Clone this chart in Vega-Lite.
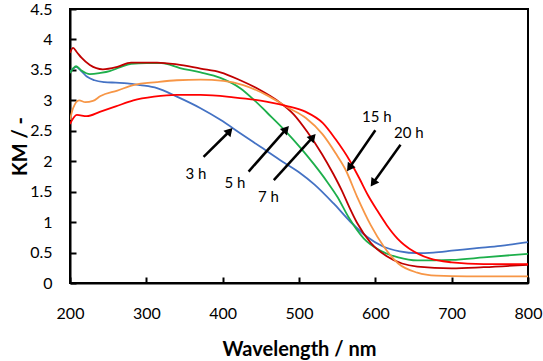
{
  "$schema": "https://vega.github.io/schema/vega-lite/v6.json",
  "width": 458,
  "height": 274,
  "autosize": {"type": "none"},
  "padding": {"left": 70, "top": 9, "right": 15, "bottom": 78},
  "background": "white",
  "config": {
    "view": {"stroke": "black", "strokeWidth": 2},
    "font": "Lato",
    "axis": {
      "domainColor": "black", "domainWidth": 2, "tickColor": "black", "tickWidth": 2,
      "tickSize": -6, "grid": false, "labelFont": "Lato", "labelFontSize": 16, "labelColor": "black",
      "labelFlush": false, "labelOverlap": false, "labelBound": false,
      "titleFont": "Lato", "titleFontSize": 20, "titleFontWeight": "bold", "titleColor": "black"
    }
  },
  "datasets": {
    "curves": [
      {"s":"3 h","wl":200,"km":3.47},{"s":"3 h","wl":204,"km":3.52},{"s":"3 h","wl":208,"km":3.55},{"s":"3 h","wl":214,"km":3.49},{"s":"3 h","wl":222,"km":3.39},{"s":"3 h","wl":232,"km":3.33},{"s":"3 h","wl":245,"km":3.30},{"s":"3 h","wl":260,"km":3.29},{"s":"3 h","wl":275,"km":3.28},{"s":"3 h","wl":292,"km":3.25},{"s":"3 h","wl":314,"km":3.20},{"s":"3 h","wl":340,"km":3.06},{"s":"3 h","wl":371,"km":2.87},{"s":"3 h","wl":397,"km":2.68},{"s":"3 h","wl":423,"km":2.46},{"s":"3 h","wl":449,"km":2.24},{"s":"3 h","wl":475,"km":2.02},{"s":"3 h","wl":500,"km":1.82},{"s":"3 h","wl":520,"km":1.62},{"s":"3 h","wl":545,"km":1.31},{"s":"3 h","wl":567,"km":1.01},{"s":"3 h","wl":589,"km":0.76},{"s":"3 h","wl":610,"km":0.60},{"s":"3 h","wl":632,"km":0.52},{"s":"3 h","wl":655,"km":0.49},{"s":"3 h","wl":676,"km":0.50},{"s":"3 h","wl":700,"km":0.53},{"s":"3 h","wl":730,"km":0.57},{"s":"3 h","wl":764,"km":0.61},{"s":"3 h","wl":800,"km":0.67},
      {"s":"5 h","wl":200,"km":3.45},{"s":"5 h","wl":204,"km":3.52},{"s":"5 h","wl":208,"km":3.56},{"s":"5 h","wl":215,"km":3.49},{"s":"5 h","wl":226,"km":3.43},{"s":"5 h","wl":240,"km":3.45},{"s":"5 h","wl":252,"km":3.48},{"s":"5 h","wl":265,"km":3.54},{"s":"5 h","wl":280,"km":3.60},{"s":"5 h","wl":300,"km":3.61},{"s":"5 h","wl":320,"km":3.61},{"s":"5 h","wl":344,"km":3.53},{"s":"5 h","wl":371,"km":3.46},{"s":"5 h","wl":397,"km":3.37},{"s":"5 h","wl":423,"km":3.20},{"s":"5 h","wl":440,"km":3.02},{"s":"5 h","wl":458,"km":2.80},{"s":"5 h","wl":482,"km":2.50},{"s":"5 h","wl":502,"km":2.22},{"s":"5 h","wl":519,"km":1.96},{"s":"5 h","wl":537,"km":1.66},{"s":"5 h","wl":550,"km":1.42},{"s":"5 h","wl":565,"km":1.08},{"s":"5 h","wl":585,"km":0.73},{"s":"5 h","wl":607,"km":0.53},{"s":"5 h","wl":630,"km":0.42},{"s":"5 h","wl":655,"km":0.37},{"s":"5 h","wl":700,"km":0.38},{"s":"5 h","wl":742,"km":0.42},{"s":"5 h","wl":800,"km":0.48},
      {"s":"7 h","wl":200,"km":3.78},{"s":"7 h","wl":204,"km":3.86},{"s":"7 h","wl":209,"km":3.79},{"s":"7 h","wl":215,"km":3.70},{"s":"7 h","wl":226,"km":3.58},{"s":"7 h","wl":243,"km":3.51},{"s":"7 h","wl":262,"km":3.55},{"s":"7 h","wl":280,"km":3.62},{"s":"7 h","wl":314,"km":3.62},{"s":"7 h","wl":340,"km":3.59},{"s":"7 h","wl":371,"km":3.52},{"s":"7 h","wl":397,"km":3.46},{"s":"7 h","wl":423,"km":3.33},{"s":"7 h","wl":449,"km":3.17},{"s":"7 h","wl":471,"km":3.00},{"s":"7 h","wl":493,"km":2.77},{"s":"7 h","wl":511,"km":2.48},{"s":"7 h","wl":530,"km":2.12},{"s":"7 h","wl":545,"km":1.79},{"s":"7 h","wl":556,"km":1.52},{"s":"7 h","wl":565,"km":1.27},{"s":"7 h","wl":576,"km":0.99},{"s":"7 h","wl":594,"km":0.66},{"s":"7 h","wl":615,"km":0.44},{"s":"7 h","wl":635,"km":0.32},{"s":"7 h","wl":655,"km":0.27},{"s":"7 h","wl":700,"km":0.24},{"s":"7 h","wl":742,"km":0.26},{"s":"7 h","wl":800,"km":0.30},
      {"s":"15 h","wl":200,"km":2.68},{"s":"15 h","wl":204,"km":2.87},{"s":"15 h","wl":212,"km":3.00},{"s":"15 h","wl":220,"km":2.97},{"s":"15 h","wl":230,"km":2.99},{"s":"15 h","wl":240,"km":3.07},{"s":"15 h","wl":262,"km":3.16},{"s":"15 h","wl":283,"km":3.25},{"s":"15 h","wl":314,"km":3.30},{"s":"15 h","wl":340,"km":3.33},{"s":"15 h","wl":371,"km":3.34},{"s":"15 h","wl":401,"km":3.32},{"s":"15 h","wl":427,"km":3.25},{"s":"15 h","wl":457,"km":3.09},{"s":"15 h","wl":487,"km":2.87},{"s":"15 h","wl":509,"km":2.71},{"s":"15 h","wl":531,"km":2.44},{"s":"15 h","wl":548,"km":2.13},{"s":"15 h","wl":561,"km":1.86},{"s":"15 h","wl":576,"km":1.42},{"s":"15 h","wl":594,"km":0.95},{"s":"15 h","wl":611,"km":0.60},{"s":"15 h","wl":630,"km":0.32},{"s":"15 h","wl":655,"km":0.17},{"s":"15 h","wl":680,"km":0.12},{"s":"15 h","wl":720,"km":0.11},{"s":"15 h","wl":800,"km":0.11},
      {"s":"20 h","wl":200,"km":2.61},{"s":"20 h","wl":209,"km":2.76},{"s":"20 h","wl":222,"km":2.74},{"s":"20 h","wl":239,"km":2.81},{"s":"20 h","wl":260,"km":2.90},{"s":"20 h","wl":283,"km":3.00},{"s":"20 h","wl":310,"km":3.06},{"s":"20 h","wl":340,"km":3.09},{"s":"20 h","wl":371,"km":3.09},{"s":"20 h","wl":414,"km":3.05},{"s":"20 h","wl":457,"km":2.98},{"s":"20 h","wl":483,"km":2.91},{"s":"20 h","wl":509,"km":2.81},{"s":"20 h","wl":531,"km":2.63},{"s":"20 h","wl":548,"km":2.36},{"s":"20 h","wl":566,"km":2.02},{"s":"20 h","wl":579,"km":1.72},{"s":"20 h","wl":590,"km":1.45},{"s":"20 h","wl":602,"km":1.20},{"s":"20 h","wl":615,"km":0.95},{"s":"20 h","wl":629,"km":0.73},{"s":"20 h","wl":650,"km":0.52},{"s":"20 h","wl":672,"km":0.40},{"s":"20 h","wl":700,"km":0.34},{"s":"20 h","wl":742,"km":0.31},{"s":"20 h","wl":800,"km":0.31}
    ],
    "labels": [
      {"t":"3 h","wl":365,"km":1.79},{"t":"5 h","wl":416,"km":1.64},{"t":"7 h","wl":460,"km":1.41},{"t":"15 h","wl":602,"km":2.73},{"t":"20 h","wl":644,"km":2.46}
    ],
    "arrows": [
      {"a":"3 h","wl":375,"km":2.07,"wl2":408,"km2":2.48},
      {"a":"5 h","wl":434,"km":1.83,"wl2":482,"km2":2.51},
      {"a":"7 h","wl":467,"km":1.69,"wl2":517,"km2":2.38},
      {"a":"15 h","wl":600,"km":2.51,"wl2":567,"km2":1.91},
      {"a":"20 h","wl":633,"km":2.27,"wl2":598,"km2":1.66}
    ],
    "headsUp": [
      {"a":"3 h","wl":408,"km":2.48},
      {"a":"5 h","wl":482,"km":2.51},
      {"a":"7 h","wl":517,"km":2.38}
    ],
    "headsDown": [
      {"a":"15 h","wl":567,"km":1.91},
      {"a":"20 h","wl":598,"km":1.66}
    ]
  },
  "encoding": {
    "x": {"field": "wl", "type": "quantitative", "scale": {"domain": [200, 800], "nice": false, "zero": false},
      "axis": {"title": "Wavelength / nm", "values": [200,300,400,500,600,700,800], "format": "d", "labelPadding": 28, "titleBaseline": "alphabetic", "titleY": 72, "titleX": 229}},
    "y": {"field": "km", "type": "quantitative", "scale": {"domain": [0, 4.5], "nice": false},
      "axis": {"title": "KM / -", "values": [0,0.5,1,1.5,2,2.5,3,3.5,4,4.5], "format": "~g", "labelPadding": 24, "titleBaseline": "middle", "titleX": -50, "titleY": 137, "titleAngle": -90}}
  },
  "layer": [
    {
      "data": {"name": "curves"},
      "mark": {"type": "line", "interpolate": "monotone", "strokeWidth": 1.8, "clip": true},
      "encoding": {
        "color": {"field": "s", "type": "nominal", "legend": null,
          "scale": {"domain": ["3 h","5 h","7 h","15 h","20 h"], "range": ["#4472C4","#1DAF4B","#C00000","#F79646","#FF0000"]}},
        "detail": {"field": "s"}
      }
    },
    {
      "data": {"name": "arrows"},
      "mark": {"type": "rule", "color": "black", "strokeWidth": 2.5},
      "encoding": {
        "x2": {"field": "wl2"},
        "y2": {"field": "km2"}
      }
    },
    {
      "data": {"name": "headsUp"},
      "mark": {"type": "point", "shape": "triangle", "filled": true, "color": "black", "opacity": 1, "size": 90, "angle": 42},
      "encoding": {}
    },
    {
      "data": {"name": "headsDown"},
      "mark": {"type": "point", "shape": "triangle", "filled": true, "color": "black", "opacity": 1, "size": 90, "angle": 215},
      "encoding": {}
    },
    {
      "data": {"name": "labels"},
      "mark": {"type": "text", "font": "Lato", "fontSize": 15, "color": "black", "align": "center", "baseline": "middle"},
      "encoding": {
        "text": {"field": "t"}
      }
    }
  ]
}
